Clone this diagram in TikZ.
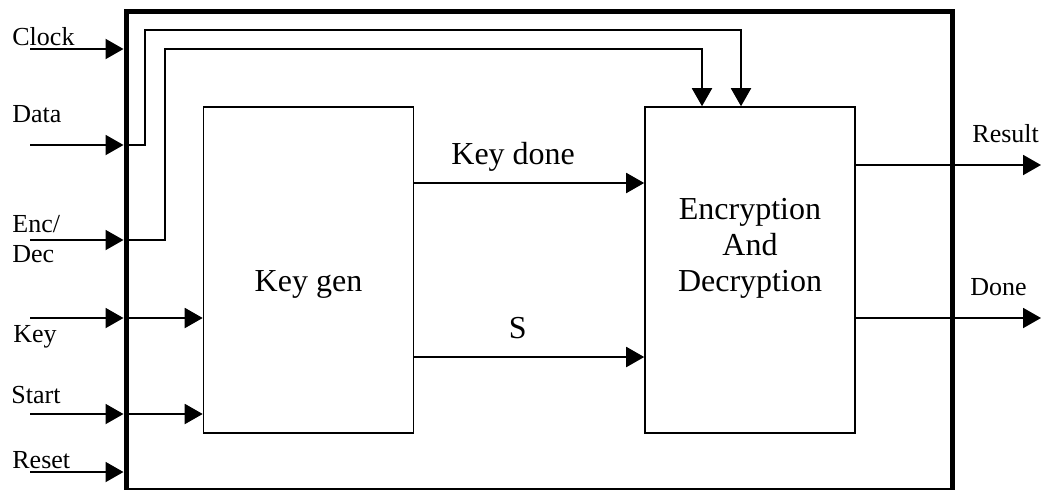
\documentclass[tikz,border=0pt]{standalone}
\usepackage{fontspec}
\setmainfont{Liberation Serif}
\usetikzlibrary{arrows.meta,positioning}

\begin{document}
\begin{tikzpicture}[
        x=0.5pt, y=-0.5pt,
        >={Triangle[length=9pt,width=10pt]},
        chip/.style={draw, line width=2.5pt, minimum width=413pt, minimum height=239.5pt, inner sep=0pt},
        block/.style={draw, line width=0.8pt, minimum width=105pt, minimum height=163pt, inner sep=0pt},
        pin/.style={->, line width=1pt},
        lbl/.style={inner sep=0pt, anchor=base west, font=\fontsize{13}{15}\selectfont, align=left},
        sig/.style={inner sep=0pt, anchor=base, font=\fontsize{16}{18}\selectfont}
    ]
    \useasboundingbox (0,0) rectangle (1042,489);

    % ==========================================
    % Blocks
    % ==========================================
    \node[chip] (chip) at (539, 250.5) {};
    \node[block, label={[yshift=-7pt, font=\fontsize{16}{18}\selectfont]center:Key gen}] (keygen) at (308.5, 270) {};
    \node[block, label={[yshift=11pt, align=center, font=\fontsize{16}{18}\selectfont]center:Encryption\\And\\Decryption}] (enc) at (750, 270) {};

    % ==========================================
    % Inputs
    % ==========================================
    \coordinate (in_clock) at (30, 49);
    \coordinate (in_data) at (30, 145);
    \coordinate (in_encdec) at (30, 240);
    \coordinate (in_key) at (30, 318);
    \coordinate (in_start) at (30, 414);
    \coordinate (in_reset) at (30, 472);

    \node[lbl] (l_clock) at (12, 45) {Clock};
    \node[lbl] (l_data) at (12, 122) {Data};
    \node[lbl] (l_encdec) at (12, 262) {Enc/\\Dec};
    \node[lbl] (l_key) at (13, 342) {Key};
    \node[lbl] (l_start) at (11, 403) {Start};
    \node[lbl] (l_reset) at (12, 468) {Reset};

    \foreach \p in {clock, data, encdec, key, start, reset} {
        \draw[pin] (in_\p) -- (in_\p -| chip.west);
    }

    \draw[pin] (in_data -| chip.west) -| (145, 30) -| ([xshift=-4.5pt]enc.north);
    \draw[pin] (in_encdec -| chip.west) -| (165, 49) -| ([xshift=-24pt]enc.north);

    \draw[pin] (in_key -| chip.west) -- (in_key -| keygen.west);
    \draw[pin] (in_start -| chip.west) -- (in_start -| keygen.west);

    % ==========================================
    % Internal signals
    % ==========================================
    \draw[pin] ([yshift=43.5pt]keygen.east) -- ([yshift=43.5pt]enc.west)
        node[sig, pos=0.43, yshift=9.5pt] {Key done};
    \draw[pin] ([yshift=-43.5pt]keygen.east) -- ([yshift=-43.5pt]enc.west)
        node[sig, pos=0.45, yshift=9.5pt] {S};

    % ==========================================
    % Outputs
    % ==========================================
    \coordinate (out_result) at (1041, 165);
    \coordinate (out_done) at (1041, 318);

    \node[lbl] (l_result) at (972, 142) {Result};
    \node[lbl] (l_done) at (970, 295) {Done};

    \draw[pin] (enc.east |- out_result) -- (out_result);
    \draw[pin] (enc.east |- out_done) -- (out_done);

\end{tikzpicture}
\end{document}
